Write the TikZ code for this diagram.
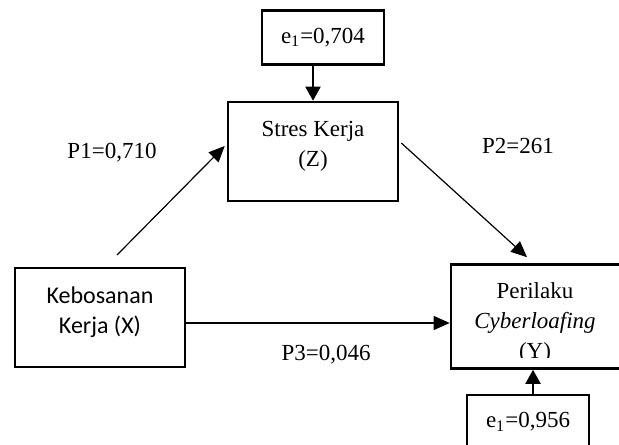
\documentclass[tikz,border=0pt]{standalone}
\usepackage{fontspec}
\setmainfont{Liberation Serif}
\newfontfamily\calibri{Carlito}
\usetikzlibrary{positioning,calc,arrows.meta}

\begin{document}
\begin{tikzpicture}[
  x=0.5pt, y=-0.5pt,
  font=\fontsize{11.5}{15}\selectfont,
  box/.style={draw, line width=1.3pt, align=center, inner sep=0pt},
  err/.style={box, minimum width=61pt, minimum height=27pt},
  arr/.style={-{Triangle[length=8pt, width=7pt]}, line width=0.6pt},
  earr/.style={-{Triangle[length=7pt, width=7.5pt]}, line width=1pt},
]
\useasboundingbox (0,0) rectangle (619,444);
\node[box, minimum width=85pt, minimum height=49.5pt, text depth=7.5pt] (stres) at (313,151.5) {Stres Kerja\\(Z)};
\node[err, above=17.5pt of stres, xshift=5pt] (eStres) {e\textsubscript{1}=0,704};
\node[box, minimum width=85pt, minimum height=49.5pt, text depth=7pt,
      font=\calibri\fontsize{12}{15}\selectfont] (kebosanan) at (100,317.5) {Kebosanan\\Kerja (X)};
% text of the Y box runs over its lower edge
\begin{scope}
  \clip (451,263) rectangle (625,357);
  \node[align=center] (perilakuText) at (535,322.5) {Perilaku\\\textit{Cyberloafing}\\(Y)};
\end{scope}
\node[box, minimum width=85pt, minimum height=52pt] (perilaku) at (536,316.5) {};
\node[err, below=12pt of perilaku, xshift=-4pt] (ePerilaku) {e\textsubscript{1}=0,956};
\node (p1) at (112,153) {P1=0,710};
\node (p2) at (518,146) {P2=261};
\node (p3) at (326,355) {P3=0,046};
\coordinate (p1start) at (117,255);
\coordinate (p3start) at ($(kebosanan.east)+(0,5.5)$);
\draw[earr] (eStres.south -| stres.north) -- (stres.north);
\draw[earr] (ePerilaku.north -| 533,0) -- (perilaku.south -| 533,0);
\draw[arr] (p1start) -- ($(stres.west)+(-2,-5.5)$);
\draw[arr] ($(stres.east)+(2,-8.5)$) -- ($(perilaku.north)+(-9,-6)$);
\draw[arr] (p3start) -- (p3start -| perilaku.west);
\end{tikzpicture}
\end{document}
